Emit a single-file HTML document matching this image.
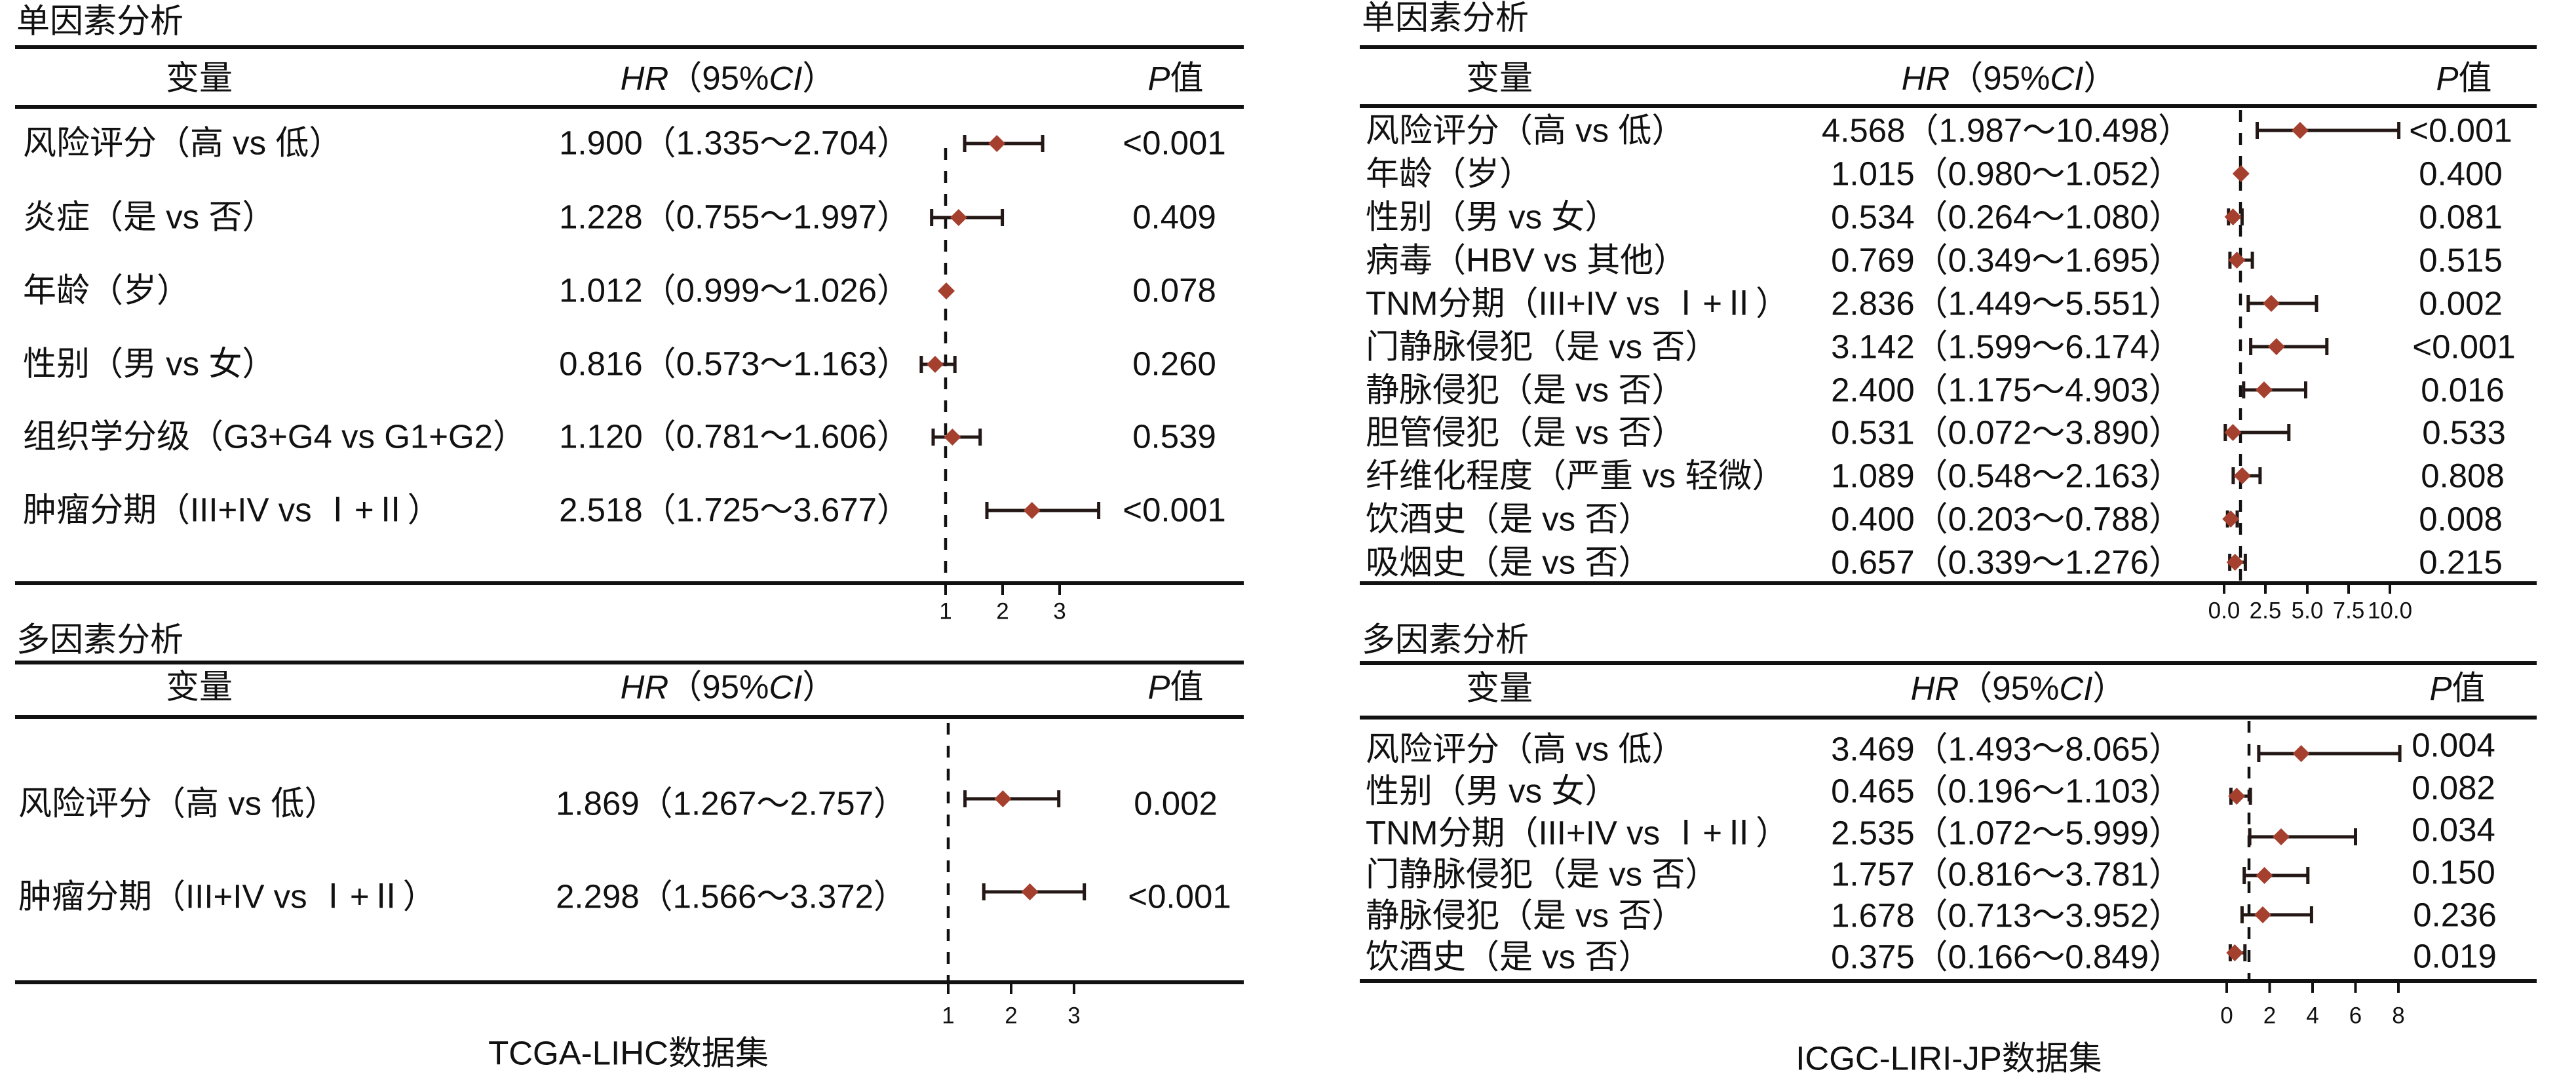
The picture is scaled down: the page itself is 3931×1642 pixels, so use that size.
<!DOCTYPE html>
<html><head><meta charset="utf-8"><style>
html,body{margin:0;padding:0;background:#fff;}
svg{display:block;}
text{font-family:"Liberation Sans","Noto Sans CJK SC",sans-serif;fill:#111;dominant-baseline:central;}
.f{font-size:51px;}
.t{font-size:35px;text-anchor:middle;}
.m{text-anchor:middle;}
.r{stroke:#111;stroke-width:6;}
.d{stroke:#111;stroke-width:4.5;stroke-dasharray:18 17;}
.ci{stroke:#231815;stroke-width:5;fill:none;}
.k{stroke:#111;stroke-width:4;}
.dm{fill:#a5402f;}
</style></head><body>
<svg width="3931" height="1642" viewBox="0 0 3931 1642" xmlns="http://www.w3.org/2000/svg">
<defs><path id="dia" d="M0,-13 L13,0 L0,13 L-13,0Z"/></defs>

<!-- LEFT UNIVARIATE -->
<text class="f" x="25" y="32">单因素分析</text>
<line class="r" x1="23" y1="72" x2="1898" y2="72"/>
<text class="f m" x="304" y="119">变量</text>
<text class="f m" x="1111" y="119"><tspan font-style="italic">HR</tspan>（95%<tspan font-style="italic">CI</tspan>）</text>
<text class="f m" x="1794" y="119"><tspan font-style="italic">P</tspan>值</text>
<line class="r" x1="23" y1="163" x2="1898" y2="163"/>
<line class="d" x1="1443" y1="226" x2="1443" y2="890"/>

<text class="f" x="35" y="218">风险评分（高 vs 低）</text>
<text class="f m" x="1121" y="218">1.900（1.335～2.704）</text>
<text class="f m" x="1792" y="218">&lt;0.001</text>
<text class="f" x="35" y="331">炎症（是 vs 否）</text>
<text class="f m" x="1121" y="331">1.228（0.755～1.997）</text>
<text class="f m" x="1792" y="331">0.409</text>
<text class="f" x="35" y="443">年龄（岁）</text>
<text class="f m" x="1121" y="443">1.012（0.999～1.026）</text>
<text class="f m" x="1792" y="443">0.078</text>
<text class="f" x="35" y="555">性别（男 vs 女）</text>
<text class="f m" x="1121" y="555">0.816（0.573～1.163）</text>
<text class="f m" x="1792" y="555">0.260</text>
<text class="f" x="35" y="666">组织学分级（G3+G4 vs G1+G2）</text>
<text class="f m" x="1121" y="666">1.120（0.781～1.606）</text>
<text class="f m" x="1792" y="666">0.539</text>
<text class="f" x="35" y="778">肿瘤分期（III+IV vs Ⅰ+Ⅱ）</text>
<text class="f m" x="1121" y="778">2.518（1.725～3.677）</text>
<text class="f m" x="1792" y="778">&lt;0.001</text>

<g class="ci">
<path d="M1472.1,219H1591.1M1472.1,206V232M1591.1,206V232"/>
<path d="M1421.7,332H1529.6M1421.7,319V345M1529.6,319V345"/>
<path d="M1442.9,444H1445.3"/>
<path d="M1405.9,556H1457.2M1405.9,543V569M1457.2,543V569"/>
<path d="M1424.0,667H1495.7M1424.0,654V680M1495.7,654V680"/>
<path d="M1506.0,779H1676.6M1506.0,766V792M1676.6,766V792"/>
</g>
<use href="#dia" class="dm" x="1521.2" y="219"/>
<use href="#dia" class="dm" x="1462.8" y="332"/>
<use href="#dia" class="dm" x="1444.0" y="444"/>
<use href="#dia" class="dm" x="1427.0" y="556"/>
<use href="#dia" class="dm" x="1453.4" y="667"/>
<use href="#dia" class="dm" x="1574.8" y="779"/>

<line class="r" x1="23" y1="890" x2="1898" y2="890"/>
<path class="k" d="M1443,890V908M1530,890V908M1617,890V908"/>
<text class="t" x="1443" y="933">1</text>
<text class="t" x="1530" y="933">2</text>
<text class="t" x="1617" y="933">3</text>

<!-- LEFT MULTIVARIATE -->
<text class="f" x="25" y="976">多因素分析</text>
<line class="r" x1="23" y1="1011" x2="1898" y2="1011"/>
<text class="f m" x="304" y="1048">变量</text>
<text class="f m" x="1111" y="1048"><tspan font-style="italic">HR</tspan>（95%<tspan font-style="italic">CI</tspan>）</text>
<text class="f m" x="1794" y="1048"><tspan font-style="italic">P</tspan>值</text>
<line class="r" x1="23" y1="1094" x2="1898" y2="1094"/>
<line class="d" x1="1447" y1="1103" x2="1447" y2="1499"/>

<text class="f" x="28" y="1226">风险评分（高 vs 低）</text>
<text class="f m" x="1116" y="1226">1.869（1.267～2.757）</text>
<text class="f m" x="1794" y="1226">0.002</text>
<text class="f" x="28" y="1368">肿瘤分期（III+IV vs Ⅰ+Ⅱ）</text>
<text class="f m" x="1116" y="1368">2.298（1.566～3.372）</text>
<text class="f m" x="1800" y="1368">&lt;0.001</text>
<g class="ci">
<path d="M1472.6,1219H1615.7M1472.6,1206V1232M1615.7,1206V1232"/>
<path d="M1501.3,1361H1654.7M1501.3,1348V1374M1654.7,1348V1374"/>
</g>
<use href="#dia" class="dm" x="1530.4" y="1219"/>
<use href="#dia" class="dm" x="1571.6" y="1361"/>

<line class="r" x1="23" y1="1499" x2="1898" y2="1499"/>
<path class="k" d="M1447,1499V1517M1543,1499V1517M1639,1499V1517"/>
<text class="t" x="1447" y="1550">1</text>
<text class="t" x="1543" y="1550">2</text>
<text class="t" x="1639" y="1550">3</text>
<text class="f m" x="959" y="1607">TCGA-LIHC数据集</text>

<!-- RIGHT UNIVARIATE -->
<text class="f" x="2078" y="27">单因素分析</text>
<line class="r" x1="2075" y1="72" x2="3871" y2="72"/>
<text class="f m" x="2288" y="119">变量</text>
<text class="f m" x="3066" y="119"><tspan font-style="italic">HR</tspan>（95%<tspan font-style="italic">CI</tspan>）</text>
<text class="f m" x="3760" y="119"><tspan font-style="italic">P</tspan>值</text>
<line class="r" x1="2075" y1="162" x2="3871" y2="162"/>
<line class="d" x1="3419" y1="168" x2="3419" y2="890"/>

<text class="f" x="2084" y="199">风险评分（高 vs 低）</text>
<text class="f m" x="3062" y="199">4.568（1.987～10.498）</text>
<text class="f m" x="3755" y="199">&lt;0.001</text>
<text class="f" x="2084" y="265">年龄（岁）</text>
<text class="f m" x="3062" y="265">1.015（0.980～1.052）</text>
<text class="f m" x="3755" y="265">0.400</text>
<text class="f" x="2084" y="331">性别（男 vs 女）</text>
<text class="f m" x="3062" y="331">0.534（0.264～1.080）</text>
<text class="f m" x="3755" y="331">0.081</text>
<text class="f" x="2084" y="397">病毒（HBV vs 其他）</text>
<text class="f m" x="3062" y="397">0.769（0.349～1.695）</text>
<text class="f m" x="3755" y="397">0.515</text>
<text class="f" x="2084" y="463">TNM分期（III+IV vs Ⅰ+Ⅱ）</text>
<text class="f m" x="3062" y="463">2.836（1.449～5.551）</text>
<text class="f m" x="3755" y="463">0.002</text>
<text class="f" x="2084" y="529">门静脉侵犯（是 vs 否）</text>
<text class="f m" x="3062" y="529">3.142（1.599～6.174）</text>
<text class="f m" x="3760" y="529">&lt;0.001</text>
<text class="f" x="2084" y="595">静脉侵犯（是 vs 否）</text>
<text class="f m" x="3062" y="595">2.400（1.175～4.903）</text>
<text class="f m" x="3758" y="595">0.016</text>
<text class="f" x="2084" y="660">胆管侵犯（是 vs 否）</text>
<text class="f m" x="3062" y="660">0.531（0.072～3.890）</text>
<text class="f m" x="3760" y="660">0.533</text>
<text class="f" x="2084" y="726">纤维化程度（严重 vs 轻微）</text>
<text class="f m" x="3062" y="726">1.089（0.548～2.163）</text>
<text class="f m" x="3758" y="726">0.808</text>
<text class="f" x="2084" y="792">饮酒史（是 vs 否）</text>
<text class="f m" x="3062" y="792">0.400（0.203～0.788）</text>
<text class="f m" x="3755" y="792">0.008</text>
<text class="f" x="2084" y="858">吸烟史（是 vs 否）</text>
<text class="f m" x="3062" y="858">0.657（0.339～1.276）</text>
<text class="f m" x="3755" y="858">0.215</text>

<g class="ci">
<path d="M3444.5,199H3660.6M3444.5,186V212M3660.6,186V212"/>
<path d="M3418.9,265H3420.7"/>
<path d="M3400.7,331H3421.4M3400.7,318V344M3421.4,318V344"/>
<path d="M3402.9,397H3437.1M3402.9,384V410M3437.1,384V410"/>
<path d="M3430.8,463H3535.0M3430.8,450V476M3535.0,450V476"/>
<path d="M3434.6,529H3550.8M3434.6,516V542M3550.8,516V542"/>
<path d="M3423.8,595H3518.5M3423.8,582V608M3518.5,582V608"/>
<path d="M3395.8,660H3492.8M3395.8,647V673M3492.8,647V673"/>
<path d="M3407.9,726H3448.9M3407.9,713V739M3448.9,713V739"/>
<path d="M3399.2,792H3414.0M3399.2,779V805M3414.0,779V805"/>
<path d="M3402.6,858H3426.4M3402.6,845V871M3426.4,845V871"/>
</g>
<use href="#dia" class="dm" x="3510.0" y="199"/>
<use href="#dia" class="dm" x="3419.8" y="265"/>
<use href="#dia" class="dm" x="3407.6" y="331"/>
<use href="#dia" class="dm" x="3413.5" y="397"/>
<use href="#dia" class="dm" x="3466.0" y="463"/>
<use href="#dia" class="dm" x="3473.8" y="529"/>
<use href="#dia" class="dm" x="3455.0" y="595"/>
<use href="#dia" class="dm" x="3407.5" y="660"/>
<use href="#dia" class="dm" x="3421.7" y="726"/>
<use href="#dia" class="dm" x="3404.2" y="792"/>
<use href="#dia" class="dm" x="3410.7" y="858"/>

<line class="r" x1="2075" y1="890" x2="3871" y2="890"/>
<path class="k" d="M3394,890V906M3457,890V906M3521,890V906M3584,890V906M3647,890V906"/>
<text class="t" x="3394" y="932">0.0</text>
<text class="t" x="3457" y="932">2.5</text>
<text class="t" x="3521" y="932">5.0</text>
<text class="t" x="3584" y="932">7.5</text>
<text class="t" x="3647" y="932">10.0</text>

<!-- RIGHT MULTIVARIATE -->
<text class="f" x="2078" y="976">多因素分析</text>
<line class="r" x1="2075" y1="1012" x2="3871" y2="1012"/>
<text class="f m" x="2288" y="1050">变量</text>
<text class="f m" x="3080" y="1050"><tspan font-style="italic">HR</tspan>（95%<tspan font-style="italic">CI</tspan>）</text>
<text class="f m" x="3750" y="1050"><tspan font-style="italic">P</tspan>值</text>
<line class="r" x1="2075" y1="1095" x2="3871" y2="1095"/>
<line class="d" x1="3432" y1="1100" x2="3432" y2="1497"/>

<text class="f" x="2084" y="1143">风险评分（高 vs 低）</text>
<text class="f m" x="3062" y="1143">3.469（1.493～8.065）</text>
<text class="f m" x="3744" y="1137">0.004</text>
<text class="f" x="2084" y="1207">性别（男 vs 女）</text>
<text class="f m" x="3062" y="1207">0.465（0.196～1.103）</text>
<text class="f m" x="3744" y="1202">0.082</text>
<text class="f" x="2084" y="1271">TNM分期（III+IV vs Ⅰ+Ⅱ）</text>
<text class="f m" x="3062" y="1271">2.535（1.072～5.999）</text>
<text class="f m" x="3744" y="1266">0.034</text>
<text class="f" x="2084" y="1334">门静脉侵犯（是 vs 否）</text>
<text class="f m" x="3062" y="1334">1.757（0.816～3.781）</text>
<text class="f m" x="3744" y="1331">0.150</text>
<text class="f" x="2084" y="1397">静脉侵犯（是 vs 否）</text>
<text class="f m" x="3062" y="1397">1.678（0.713～3.952）</text>
<text class="f m" x="3746" y="1396">0.236</text>
<text class="f" x="2084" y="1460">饮酒史（是 vs 否）</text>
<text class="f m" x="3062" y="1460">0.375（0.166～0.849）</text>
<text class="f m" x="3746" y="1459">0.019</text>

<g class="ci">
<path d="M3446.9,1150H3662.1M3446.9,1137V1163M3662.1,1137V1163"/>
<path d="M3404.4,1215H3434.1M3404.4,1202V1228M3434.1,1202V1228"/>
<path d="M3433.1,1277H3594.5M3433.1,1264V1290M3594.5,1264V1290"/>
<path d="M3424.7,1336H3521.8M3424.7,1323V1349M3521.8,1323V1349"/>
<path d="M3421.4,1396H3527.4M3421.4,1383V1409M3527.4,1383V1409"/>
<path d="M3403.4,1454H3425.8M3403.4,1441V1467M3425.8,1441V1467"/>
</g>
<use href="#dia" class="dm" x="3511.6" y="1150"/>
<use href="#dia" class="dm" x="3413.2" y="1215"/>
<use href="#dia" class="dm" x="3481.0" y="1277"/>
<use href="#dia" class="dm" x="3455.5" y="1336"/>
<use href="#dia" class="dm" x="3453.0" y="1396"/>
<use href="#dia" class="dm" x="3410.3" y="1454"/>

<line class="r" x1="2075" y1="1497" x2="3871" y2="1497"/>
<path class="k" d="M3398,1497V1515M3463.5,1497V1515M3529,1497V1515M3594.5,1497V1515M3660,1497V1515"/>
<text class="t" x="3398" y="1550">0</text>
<text class="t" x="3463.5" y="1550">2</text>
<text class="t" x="3529" y="1550">4</text>
<text class="t" x="3594.5" y="1550">6</text>
<text class="t" x="3660" y="1550">8</text>
<text class="f m" x="2974" y="1615">ICGC-LIRI-JP数据集</text>
</svg>
</body></html>
